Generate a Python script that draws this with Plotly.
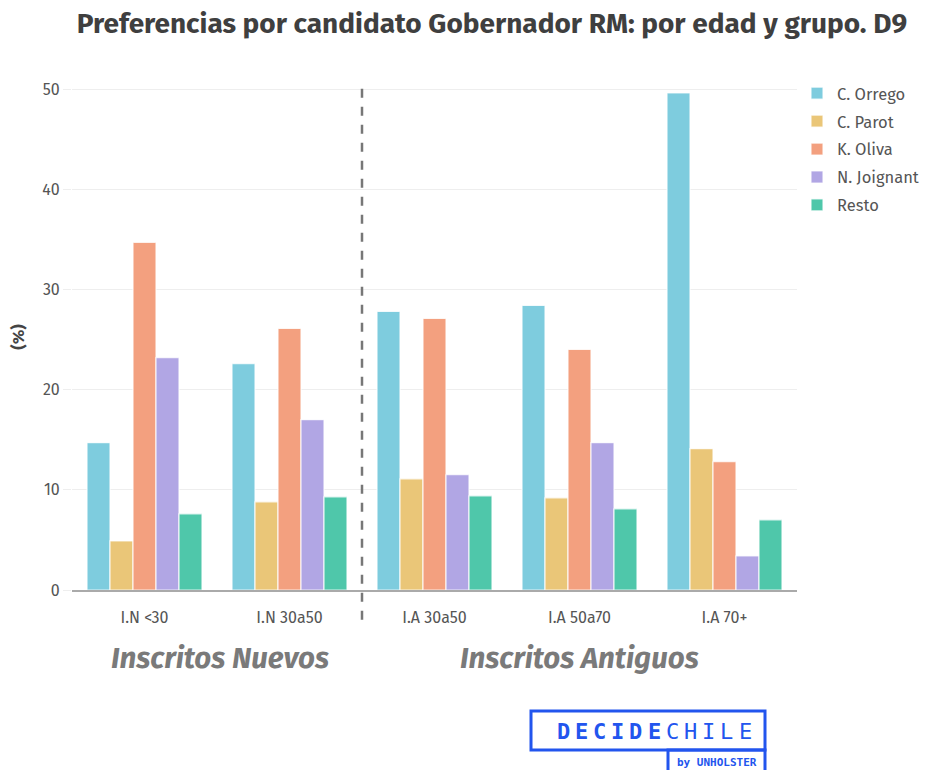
import plotly.graph_objects as go

categories = ["I.N <30", "I.N 30a50", "I.A 30a50", "I.A 50a70", "I.A 70+"]
orrego = [14.7, 22.6, 27.8, 28.4, 49.6]
parot = [4.9, 8.8, 11.1, 9.2, 14.1]
oliva = [34.7, 26.1, 27.1, 24.0, 12.8]
joignant = [23.2, 17.0, 11.5, 14.7, 3.4]
resto = [7.6, 9.3, 9.4, 8.1, 7.0]
series_names = ["C. Orrego", "C. Parot", "K. Oliva", "N. Joignant", "Resto"]
series_values = [orrego, parot, oliva, joignant, resto]
colors = ["#7ECCDE", "#EAC678", "#F3A07F", "#B1A6E4", "#4FC7AA"]
group_labels = ["Inscritos Nuevos", "Inscritos Antiguos"]
y_ticks = [0, 10, 20, 30, 40, 50]

FONT = "Fira Sans, Open Sans, Lato, sans-serif"

W, H = 931, 770
ML, MR, MT, MB = 64, 142, 76, 188
PW, PH = W - ML - MR, H - MT - MB

fig = go.Figure()
for i, (name, vals, col) in enumerate(zip(series_names, series_values, colors)):
    fig.add_trace(go.Bar(
        x=categories, y=vals, name=name, legendgroup=str(i),
        marker=dict(color=col, line=dict(color="rgba(255,255,255,0.8)", width=1.2)),
    ))

fig.update_layout(
    width=W, height=H,
    barmode="group", bargap=0.207, bargroupgap=0.0,
    plot_bgcolor="white", paper_bgcolor="white",
    margin=dict(l=ML, r=MR, t=MT, b=MB, autoexpand=False),
    title=dict(text="<b>Preferencias por candidato Gobernador RM: por edad y grupo. D9</b>",
               x=484 / W, xanchor="center", y=1 - 15 / H, yanchor="middle",
               font=dict(family=FONT, size=28, color="#3F3F3F")),
    font=dict(family=FONT, color="#555555"),
    legend=dict(x=1.0, y=1.016, xanchor="left", yanchor="top",
                font=dict(size=16.5, color="#555555"), tracegroupgap=3.5,
                itemwidth=30, bgcolor="rgba(0,0,0,0)"),
    xaxis=dict(showgrid=False, showline=True, linecolor="#AAAAAA", linewidth=2,
               ticks="", tickfont=dict(size=16, color="#555555"), ticklabelstandoff=12,
               range=[-0.5, 4.5], fixedrange=True, automargin=False),
    yaxis=dict(range=[0, 50.5], tickvals=y_ticks, showgrid=True, gridcolor="#EEEEEE",
               gridwidth=1, zeroline=False, showline=False, automargin=False,
               ticks="outside", ticklen=8, tickcolor="#EEEEEE",
               tickfont=dict(size=16, color="#555555"),
               title=dict(text="<b>(%)</b>", font=dict(size=17, color="#444444"), standoff=22)),
    showlegend=True,
)

# dashed separator between groups
fig.add_shape(type="line", xref="x", yref="paper", x0=1.5, x1=1.5, y0=-0.059, y1=1.0,
              line=dict(color="#777777", width=2.5, dash="dash"))

# group labels
fig.add_annotation(text="<b><i>" + group_labels[0] + "</i></b>", xref="x", yref="paper",
                   x=0.52, y=-0.134, showarrow=False, yanchor="middle",
                   font=dict(family=FONT, size=29.5, color="#7A7A7A"))
fig.add_annotation(text="<b><i>" + group_labels[1] + "</i></b>", xref="x", yref="paper",
                   x=3.0, y=-0.134, showarrow=False, yanchor="middle",
                   font=dict(family=FONT, size=29.5, color="#7A7A7A"))

# logo (positions given in screen px, page offset of 8px)
blue = "#2255EE"
def px_to_paper(xs, ys):
    xf, yf = xs - 8, ys - 8
    return (xf - ML) / PW, (H - MB - yf) / PH

x0, y0 = px_to_paper(531, 711)
x1, y1 = px_to_paper(765, 750)
x2, y2 = px_to_paper(668, 785)
fig.add_shape(type="rect", xref="paper", yref="paper", x0=x0, y0=y0, x1=x1, y1=y1,
              line=dict(color=blue, width=3))
fig.add_shape(type="rect", xref="paper", yref="paper", x0=x2, y0=y1, x1=x1, y1=y2,
              line=dict(color=blue, width=3))
logo = "DECIDECHILE"
for i, ch in enumerate(logo):
    xs = 563 + i * 18.2
    xx, yy = px_to_paper(xs, 731)
    fig.add_annotation(text=("<b>" + ch + "</b>") if i < 6 else ch,
                       xref="paper", yref="paper", x=xx, y=yy, showarrow=False,
                       xanchor="center", yanchor="middle",
                       font=dict(family="DejaVu Sans Mono, monospace", size=22, color=blue))
bx, by = px_to_paper(717, 762)
fig.add_annotation(text="<b>by UNHOLSTER</b>", xref="paper", yref="paper", x=bx, y=by,
                   showarrow=False, xanchor="center", yanchor="middle",
                   font=dict(family="DejaVu Sans Mono, monospace", size=11, color=blue))

fig.write_html("out.html")
